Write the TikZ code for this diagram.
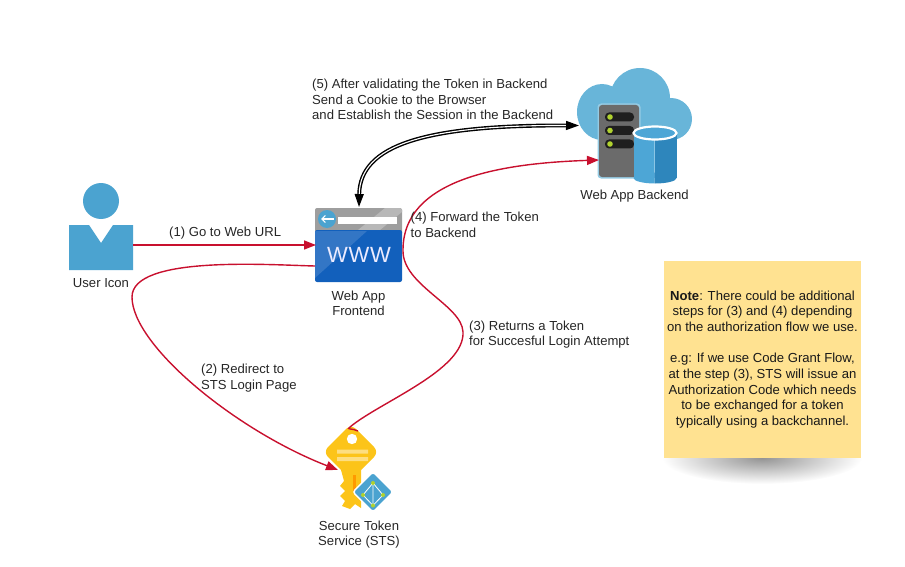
\documentclass[tikz,border=0pt]{standalone}
\usepackage{fontspec}
\setmainfont{Liberation Sans}
\usetikzlibrary{arrows.meta,shapes.geometric}
\definecolor{ublue}{HTML}{4BA3D0}
\definecolor{cloudb}{HTML}{68B5D9}
\definecolor{linered}{HTML}{C8102E}
\definecolor{notey}{HTML}{FFE291}
\definecolor{keyy}{HTML}{FCC419}
\definecolor{wblue}{HTML}{1260BC}
\definecolor{cylL}{HTML}{4DA6D6}
\definecolor{cylR}{HTML}{2E86BC}
\definecolor{dotg}{HTML}{B0D22F}
\tikzset{
 lbl/.style={font=\fontsize{13.1}{15.5}\selectfont,text=black!85,inner sep=0pt,align=left,anchor=north west},
 captxt/.style={font=\fontsize{13.1}{15.5}\selectfont,text=black!85,inner sep=0pt,align=center},
 redarrow/.style={draw=linered,line width=1.4pt,-{Triangle[length=12pt,width=9pt,fill=linered]}},
 anchorbox/.style={inner sep=0pt,minimum size=0pt},
}
\begin{document}
\begin{tikzpicture}[x=1pt,y=-1pt]
\useasboundingbox (0,0) rectangle (905,567);
% user
\fill[ublue] (101,201) circle (18);
\fill[ublue] (69,225) -- (89,225) -- (101,243) -- (113,225) -- (133,225) -- (133,270) -- (69,270) -- cycle;
\node[anchorbox,minimum width=64pt,minimum height=88pt] (user) at (101,226) {};
\node[captxt] (userl) at (101,283.5) {User Icon};
% www
\fill[black!38,rounded corners=2pt] (315,208) rectangle (402,235);
\fill[black!28] (385,208) -- (400,208) -- (402,210) -- (402,212) -- (380,230) -- (358,230) -- cycle;
\fill[wblue,rounded corners=2pt] (315,230) rectangle (402,282);
\fill[wblue!86!white] (315,231) -- (315,278) -- (367,231) -- cycle;
\fill[ublue] (327,219) circle (9);
\draw[white,line width=1.2pt,-{Straight Barb[length=3.5pt,width=7pt]}] (334,219) -- (321,219);
\fill[white] (338,217) rectangle (397,223.5);
\node[text=white!92!blue,inner sep=0pt,font=\fontsize{22}{22}\selectfont] (wwwtxt) at (359,254.5) {W\hspace{.8pt}W\hspace{.8pt}W};
\node[anchorbox,minimum width=87pt,minimum height=74pt] (www) at (358.5,245) {};
\node[captxt] (wwwl) at (358.5,303.5) {Web App\\Frontend};
% backend
\fill[cloudb] (602,112) ellipse (25 and 28);
\fill[cloudb] (640,98) circle (30);
\fill[cloudb] (671,119) circle (21);
\fill[cloudb] (602,115) rectangle (672,140);
\fill[cloudb!70!white,rounded corners=3.5pt] (597.5,103.5) rectangle (640.5,178.5);
\fill[black!58,rounded corners=3pt] (599,105) rectangle (639,177);
\foreach \yy in {117,130.5,144}{
 \fill[black!88,rounded corners=4pt] (605,\yy-4.5) rectangle (634,\yy+4.5);
 \fill[dotg] (610,\yy) circle (2.8);
}
\begin{scope}
\clip (625,120) rectangle (654.5,190);
\fill[cylL] (633.5,133) rectangle (654.5,178);
\fill[cylL] (655,178) ellipse (21.5 and 5.5);
\end{scope}
\begin{scope}
\clip (654.5,120) rectangle (685,190);
\fill[cylR] (654.5,133) rectangle (676.5,178);
\fill[cylR] (655,178) ellipse (21.5 and 5.5);
\end{scope}
\filldraw[draw=white,line width=2.2pt,fill=cylL] (655,133) ellipse (21.5 and 6.5);
\node[anchorbox,minimum width=100pt,minimum height=100pt] (back) at (634,125) {};
\node[captxt] (backl) at (634.5,196) {Web App Backend};
% key
\fill[keyy] (341,470) -- (361,470) -- (361,508) -- (355,504) -- (350,509) -- (342,506) -- (345,501) -- (340,496) -- (345,491) -- (340,486) -- (344,481) -- cycle;
\fill[keyy,rounded corners=7pt] (351,424) -- (379,452) -- (351,480) -- (323,452) -- cycle;
\fill[white] (352,439) circle (5.2);
\fill[white,opacity=.45] (337,449.5) rectangle (368,453.5) (337,457) rectangle (368,461);
\fill[orange!80!yellow] (353,475) rectangle (356,491);
\node[diamond,anchorbox,fill=ublue,draw=white,line width=1.5pt,rounded corners=3pt,minimum width=41pt,minimum height=41pt] (azure) at (373,492) {};
\draw[white,line width=.8pt] (373,483) -- (363,495) -- (373,505.5) -- (383,495) -- cycle (373,483) -- (373,505.5);
\foreach \px/\py in {373/483,363/495,383/495,373/505.5}{\fill[dotg] (\px,\py) circle (2);}
\node[anchorbox,minimum width=56pt,minimum height=86pt] (key) at (351,468) {};
\node[captxt] (keyl) at (359,534.5) {Secure Token\\Service (STS)};
% connector end points
\coordinate (userout) at (133,245);
\coordinate (wwwin) at (316,245);
\coordinate (wwwout) at (315,266);
\coordinate (keyin) at (338,470);
\coordinate (keyout) at (358,431);
\coordinate (backred) at (599,160);
\coordinate (wwwtop) at (359,207);
\coordinate (backin) at (579,125.5);
% connectors
\draw[redarrow] (userout) -- (wwwin);
\draw[redarrow] (wwwout) .. controls (270,265) and (132,255) .. (132,297) .. controls (132,345) and (235,430) .. (keyin);
\draw[redarrow] (keyout) .. controls (352,428) and (346,430) .. (350,427) .. controls (380,402) and (465,370) .. (463,332) .. controls (462,305) and (402,285) .. (403,250) .. controls (403,176) and (510,163) .. (backred);
\draw[black,double=white,double distance=1.1pt,line width=1.4pt,{Triangle[length=13pt,width=9pt,fill=black]}-{Triangle[length=13pt,width=9pt,fill=black]}] (wwwtop) .. controls (360,145) and (425,125) .. (backin);
% labels
\node[lbl] (l1) at (169,226.5) {(1) Go to Web URL};
\node[lbl] (l2) at (201,364) {(2) Redirect to\\STS Login Page};
\node[lbl] (l3) at (469,320.5) {(3) Returns a Token\\for Succesful Login Attempt};
\node[lbl] (l4) at (410.5,212) {(4) Forward the Token\\to Backend};
\node[lbl] (l5) at (312,79) {(5) After validating the Token in Backend\\Send a Cookie to the Browser\\and Establish the Session in the Backend};
% note
\begin{scope}
\clip (640,458) rectangle (885,495);
\shade[inner color=black!42,outer color=white] (762,458) ellipse (100 and 26);
\end{scope}
\node[fill=notey,inner sep=0pt,minimum width=197pt,minimum height=197pt,align=center,font=\fontsize{13.1}{15.7}\selectfont,text=black!90] (note) at (762.5,359.5) {\textbf{Note}: There could be additional\\steps for (3) and (4) depending\\on the authorization flow we use.\\[15.7pt]e.g: If we use Code Grant Flow,\\at the step (3), STS will issue an\\Authorization Code which needs\\to be exchanged for a token\\typically using a backchannel.};
\end{tikzpicture}
\end{document}
